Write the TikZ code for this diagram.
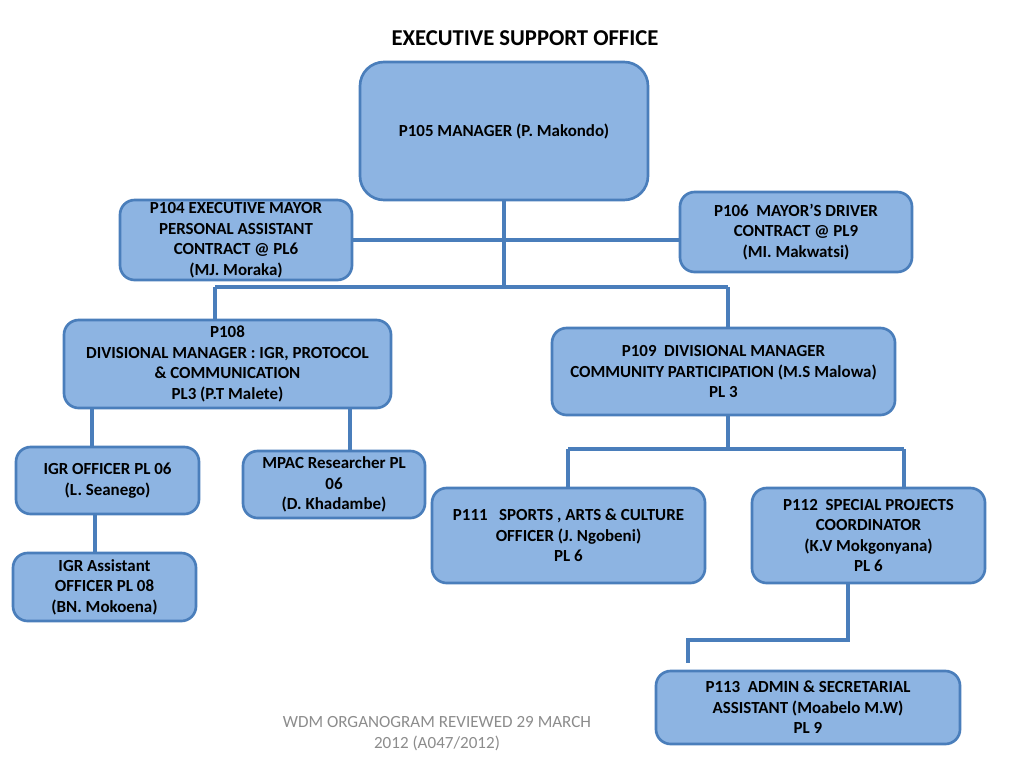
\documentclass[tikz,border=0pt]{standalone}
\usepackage{fontspec}
\setmainfont{Carlito}
\definecolor{boxfill}{HTML}{8DB4E2}
\definecolor{boxline}{HTML}{4A7EBB}
\definecolor{footgray}{HTML}{8C8C8C}
\begin{document}
\begin{tikzpicture}[x=0.75pt,y=-0.75pt,
  orgbox/.style={draw=boxline, fill=boxfill, line width=2pt, rounded corners=11pt,
    inner sep=0pt, align=center, font=\bfseries\fontsize{12.7}{15.4}\selectfont},
  conn/.style={draw=boxline, line width=2.4pt}]
\useasboundingbox (0,0) rectangle (1024,768);
% title
\node[font=\bfseries\fontsize{17}{20}\selectfont] (title) at (525,38) {EXECUTIVE SUPPORT OFFICE};
% boxes
\node[orgbox, rounded corners=18pt, minimum width=216pt, minimum height=103.5pt] (p105) at (504,131) {P105 MANAGER (P. Makondo)};
\node[orgbox, minimum width=174pt, minimum height=60pt] (p104) at (236,240) {P104 EXECUTIVE MAYOR\\PERSONAL ASSISTANT\\CONTRACT @ PL6\\(MJ. Moraka)};
\node[orgbox, minimum width=174pt, minimum height=60pt] (p106) at (796,232) {P106\ \ MAYOR’S DRIVER\\CONTRACT @ PL9\\(MI. Makwatsi)};
\node[orgbox, minimum width=245.25pt, minimum height=66pt] (p108) at (227.5,364) {P108\\DIVISIONAL MANAGER : IGR, PROTOCOL\\\& COMMUNICATION\\PL3 (P.T Malete)};
\node[orgbox, minimum width=257.25pt, minimum height=65.25pt] (p109) at (723.5,371.5) {P109\ \ DIVISIONAL MANAGER\\COMMUNITY PARTICIPATION (M.S Malowa)\\PL 3};
\node[orgbox, minimum width=137.25pt, minimum height=50.25pt] (igr) at (107.5,480.5) {IGR OFFICER PL 06\\(L. Seanego)};
\node[orgbox, minimum width=136.5pt, minimum height=50.25pt] (mpac) at (334,484.5) {MPAC Researcher PL\\06\\(D. Khadambe)};
\node[orgbox, minimum width=137.25pt, minimum height=51pt] (igra) at (104.5,587) {IGR Assistant\\OFFICER PL 08\\(BN. Mokoena)};
\node[orgbox, minimum width=204.75pt, minimum height=71.25pt] (p111) at (568.5,535.5) {P111\ \ \ SPORTS , ARTS \& CULTURE\\OFFICER (J. Ngobeni)\\PL 6};
\node[orgbox, minimum width=174.75pt, minimum height=71.25pt] (p112) at (868.5,535.5) {P112\ \ SPECIAL PROJECTS\\COORDINATOR\\(K.V Mokgonyana)\\PL 6};
\node[orgbox, minimum width=228pt, minimum height=54.75pt] (p113) at (808,707.5) {P113\ \ ADMIN \& SECRETARIAL\\ASSISTANT (Moabelo M.W)\\PL 9};
% footer
\node[align=center, text=footgray, font=\fontsize{12.8}{15.8}\selectfont] (foot) at (437,734) {WDM ORGANOGRAM REVIEWED 29 MARCH\\2012 (A047/2012)};
% connectors
\coordinate (bL) at (215,287);
\coordinate (bR) at (728,287);
\draw[conn] (p105.south) -- (p105.south |- bL);
\draw[conn] (bL) -- (bR);
\draw[conn] (bL) -- (bL |- p108.north);
\draw[conn] (bR) -- (bR |- p109.north);
\draw[conn] (p104.east) -- (p104.east -| p106.west);
\draw[conn] (p108.south -| 92,0) -- (igr.north -| 92,0);
\draw[conn] (p108.south -| 350,0) -- (mpac.north -| 350,0);
\draw[conn] (igr.south -| 95,0) -- (igra.north -| 95,0);
\coordinate (cL) at (568,449);
\coordinate (cR) at (904,449);
\draw[conn] (p109.south -| 728,0) -- (728,449);
\draw[conn] (cL) -- (cR);
\draw[conn] (cL) -- (cL |- p111.north);
\draw[conn] (cR) -- (cR |- p112.north);
\coordinate (dEnd) at (688,663);
\draw[conn] (p112.south -| 848,0) -- (848,640) -- (688,640) -- (dEnd);
\end{tikzpicture}
\end{document}
